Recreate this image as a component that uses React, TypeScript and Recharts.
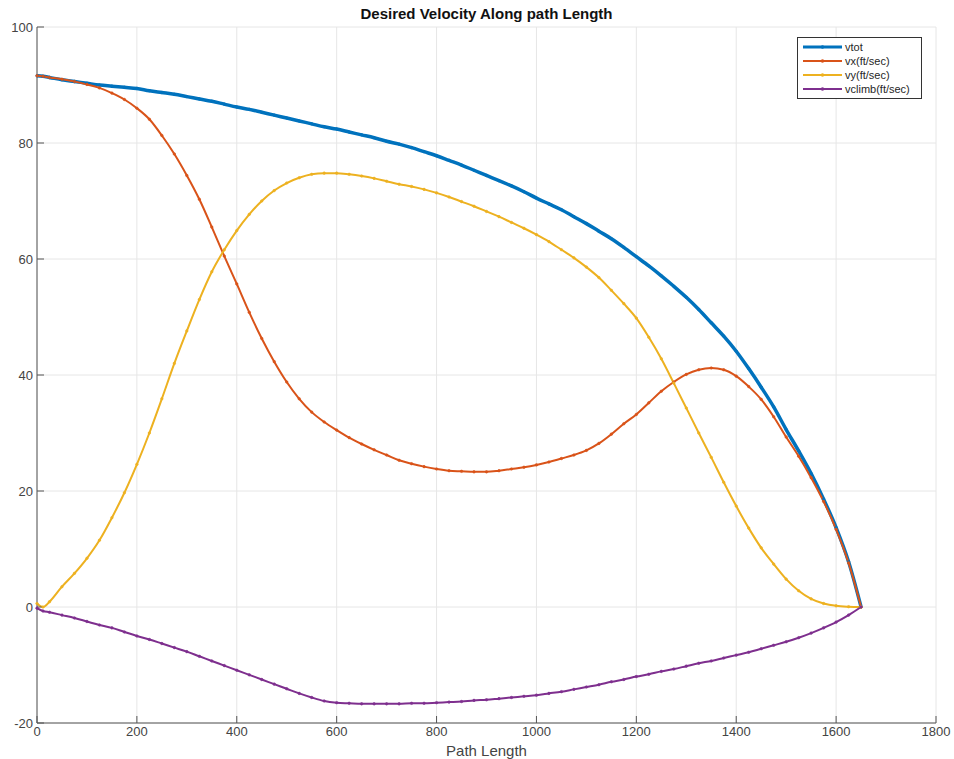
import { LineChart, Line, XAxis, YAxis, CartesianGrid } from "recharts"

// ── Data ───────────────────────────────────────────────────────────────────

const pathLength = [
  0, 12, 25, 50, 75, 100, 125, 150, 175, 200, 225, 250, 275, 300, 325, 350, 375, 400,
  425, 450, 475, 500, 525, 550, 575, 600, 625, 650, 675, 700, 725, 750, 775, 800,
  825, 850, 875, 900, 925, 950, 975, 1000, 1025, 1050, 1075, 1100, 1125, 1150, 1175,
  1200, 1225, 1250, 1275, 1300, 1325, 1350, 1375, 1400, 1425, 1450, 1475, 1500, 1525,
  1550, 1575, 1600, 1625, 1650,
]

const vtot = [
  91.6, 91.5, 91.3, 90.9, 90.6, 90.3, 90.0, 89.8, 89.6, 89.4, 89.0, 88.7, 88.4, 88.0,
  87.6, 87.2, 86.7, 86.2, 85.8, 85.3, 84.8, 84.3, 83.8, 83.3, 82.8, 82.4, 81.9, 81.4,
  80.9, 80.3, 79.8, 79.2, 78.5, 77.8, 77.0, 76.2, 75.3, 74.4, 73.5, 72.6, 71.6, 70.5,
  69.5, 68.5, 67.3, 66.1, 64.8, 63.5, 62.0, 60.4, 58.8, 57.1, 55.3, 53.4, 51.3, 49.0,
  46.7, 44.1, 41.1, 37.9, 34.5, 30.6, 26.9, 23.0, 18.6, 13.7, 7.8, 0,
]

const vx = [
  91.6, 91.5, 91.3, 91.0, 90.6, 90.1, 89.5, 88.6, 87.5, 86.0, 84.1, 81.3, 78.1, 74.4,
  70.3, 65.5, 60.5, 55.7, 50.8, 46.3, 42.3, 38.8, 35.9, 33.6, 31.9, 30.5, 29.2, 28.1,
  27.1, 26.2, 25.3, 24.7, 24.2, 23.8, 23.5, 23.4, 23.3, 23.3, 23.5, 23.8, 24.1, 24.5,
  25.0, 25.6, 26.2, 27.0, 28.2, 29.8, 31.6, 33.2, 35.2, 37.2, 38.8, 40.1, 40.9, 41.2,
  40.9, 39.8, 38.0, 35.8, 32.8, 29.3, 26.0, 22.3, 18.2, 13.4, 7.6, 0,
]

const vy = [
  0.6, 0.0, 0.9, 3.5, 5.8, 8.4, 11.5, 15.4, 19.7, 24.6, 30.0, 35.9, 42.0, 47.6, 53.0,
  57.8, 61.6, 64.9, 67.7, 70.0, 71.8, 73.1, 74.0, 74.6, 74.8, 74.8, 74.6, 74.3, 73.9,
  73.4, 72.9, 72.5, 72.0, 71.4, 70.7, 69.9, 69.1, 68.2, 67.3, 66.3, 65.3, 64.2, 63.0,
  61.6, 60.2, 58.6, 56.8, 54.6, 52.3, 49.8, 46.5, 42.8, 38.6, 34.3, 30.0, 25.8, 21.5,
  17.4, 13.6, 10.2, 7.4, 4.8, 2.8, 1.4, 0.6, 0.2, 0.05, 0,
]

const vclimb = [
  -0.2, -0.7, -0.9, -1.4, -1.9, -2.5, -3.1, -3.6, -4.3, -5.0, -5.6, -6.3, -7.0, -7.7,
  -8.5, -9.3, -10.1, -10.9, -11.7, -12.5, -13.3, -14.1, -14.9, -15.6, -16.2, -16.5,
  -16.6, -16.7, -16.7, -16.7, -16.7, -16.6, -16.6, -16.5, -16.4, -16.3, -16.1, -16.0,
  -15.8, -15.6, -15.4, -15.2, -14.9, -14.6, -14.2, -13.8, -13.4, -12.9, -12.5, -12.0,
  -11.6, -11.1, -10.7, -10.2, -9.7, -9.3, -8.8, -8.3, -7.8, -7.2, -6.6, -6.0, -5.3,
  -4.5, -3.6, -2.6, -1.4, 0,
]

const xTicks = [0, 200, 400, 600, 800, 1000, 1200, 1400, 1600, 1800]
const yTicks = [-20, 0, 20, 40, 60, 80, 100]

const rows = pathLength.map((x, i) => ({
  x,
  vtot: vtot[i],
  vx: vx[i],
  vy: vy[i],
  vclimb: vclimb[i],
}))

// ── Styling (MATLAB default palette) ──────────────────────────────────────

const FONT = "'Liberation Sans', Arial, sans-serif"
const AXIS = "#555555"
const TEXT = "#444444"
const GRID = "#e6e6e6"

const SERIES = [
  { key: "vtot", name: "vtot", color: "#0072bd", width: 3.5 },
  { key: "vx", name: "vx(ft/sec)", color: "#d95319", width: 2 },
  { key: "vy", name: "vy(ft/sec)", color: "#edb120", width: 2 },
  { key: "vclimb", name: "vclimb(ft/sec)", color: "#7e2f8e", width: 2 },
]

function LegendBox() {
  return (
    <div
      style={{
        position: "absolute",
        left: 797,
        top: 37,
        width: 125,
        boxSizing: "border-box",
        background: "#fff",
        border: "1px solid #333",
        padding: "2px 4px 2px 5px",
        fontFamily: FONT,
        fontSize: 11,
        color: "#262626",
        lineHeight: "14px",
      }}
    >
      {SERIES.map((s) => (
        <div key={s.key} style={{ display: "flex", alignItems: "center" }}>
          <svg width={39} height={14} style={{ marginRight: 3, flexShrink: 0 }}>
            <line x1={0} y1={7} x2={39} y2={7} stroke={s.color} strokeWidth={s.key === "vtot" ? 3 : 2} />
            <circle cx={19.5} cy={7} r={1.8} fill={s.color} />
          </svg>
          <span>{s.name}</span>
        </div>
      ))}
    </div>
  )
}

export default function App() {
  return (
    <div
      style={{
        position: "absolute",
        left: 0,
        top: 0,
        width: 954,
        height: 759,
        background: "#fff",
      }}
    >
      <div
        style={{
          position: "absolute",
          top: 5,
          left: 37,
          width: 899,
          textAlign: "center",
          fontFamily: FONT,
          fontWeight: "bold",
          fontSize: 15,
          lineHeight: "18px",
          color: "#111",
        }}
      >
        Desired Velocity Along path Length
      </div>
      <LineChart
        width={954}
        height={759}
        data={rows}
        margin={{ top: 27, right: 18, bottom: 0, left: 0 }}
      >
        <CartesianGrid stroke={GRID} strokeWidth={1} />
        <XAxis
          type="number"
          dataKey="x"
          domain={[0, 1800]}
          ticks={xTicks}
          height={36}
          stroke={AXIS}
          tickSize={-7}
          tickMargin={11}
          tick={{ fill: TEXT, fontSize: 13, fontFamily: FONT }}
          label={{
            value: "Path Length",
            position: "insideBottom",
            offset: 3,
            fill: TEXT,
            fontSize: 15,
            fontFamily: FONT,
          }}
        />
        <YAxis
          type="number"
          domain={[-20, 100]}
          ticks={yTicks}
          width={37}
          stroke={AXIS}
          tickSize={-7}
          tickMargin={11}
          tick={{ fill: TEXT, fontSize: 13, fontFamily: FONT }}
        />
        {SERIES.map((s) => (
          <Line
            key={s.key}
            type="monotone"
            dataKey={s.key}
            name={s.name}
            stroke={s.color}
            strokeWidth={s.width}
            dot={{ r: 1.3, fill: s.color, stroke: s.color, strokeWidth: 0.5 }}
            isAnimationActive={false}
          />
        ))}
      </LineChart>
      <LegendBox />
    </div>
  )
}
